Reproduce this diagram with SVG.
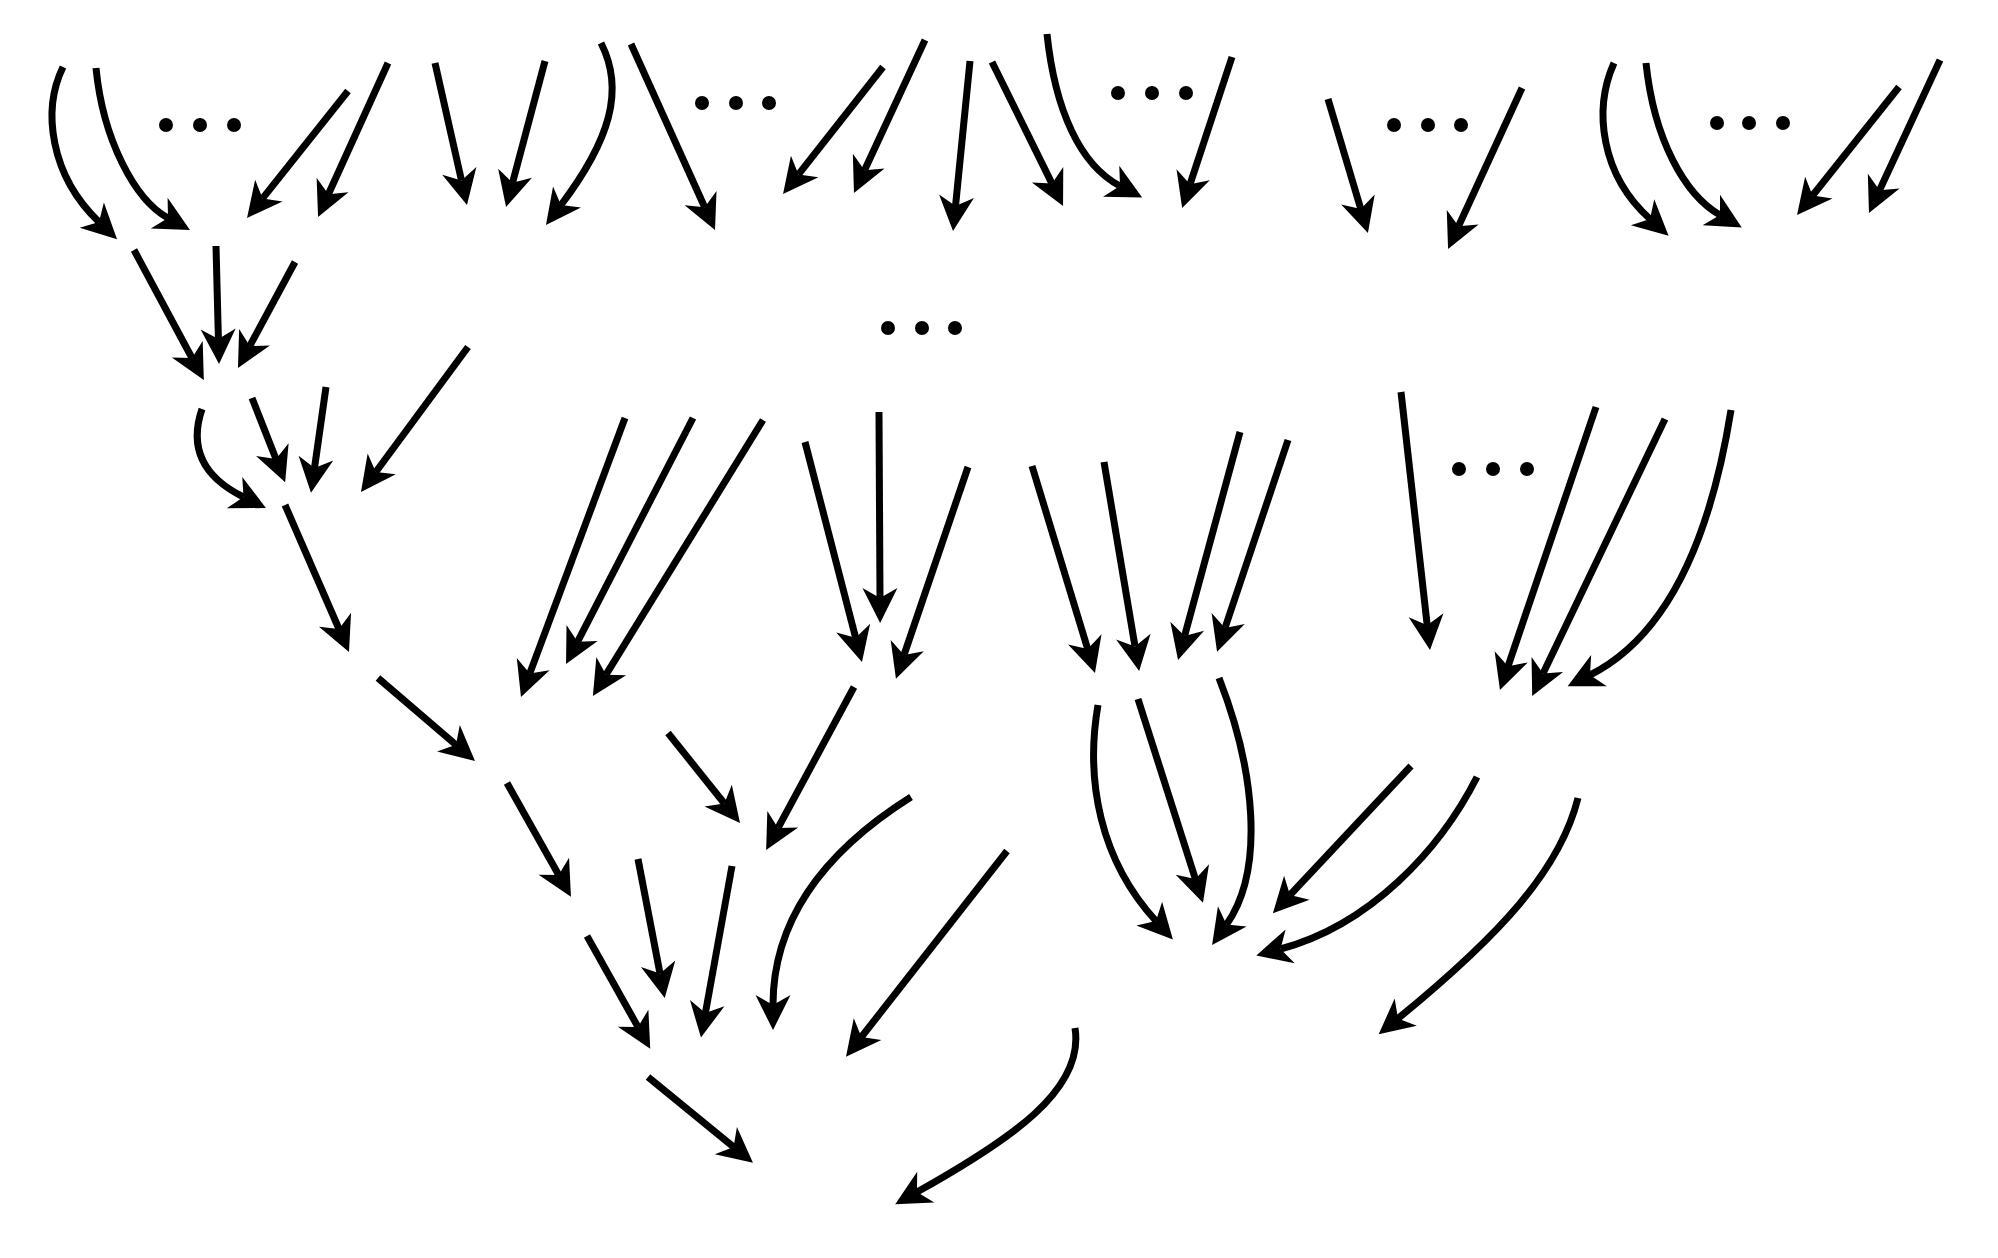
<svg xmlns="http://www.w3.org/2000/svg" width="1998" height="1258" viewBox="0 0 1998 1258">
<defs>
<style>
.e{fill:none;stroke:#000;stroke-width:7;stroke-linecap:butt;marker-end:url(#ah)}
.d{fill:#000}
</style>
<marker id="ah" markerUnits="userSpaceOnUse" orient="auto" refX="0" refY="0" markerWidth="40" markerHeight="40" overflow="visible">
<path d="M25,0 L-10,-17.5 L0,0 L-10,17.5 Z" fill="#000"/>
</marker>
</defs>
<rect width="1998" height="1258" fill="#fff"/>
<g id="ellipsis1" class="d"><circle cx="166" cy="125" r="7"/><circle cx="200" cy="125" r="7"/><circle cx="234" cy="125" r="7"/></g>
<g id="ellipsis2" class="d"><circle cx="702" cy="103" r="7"/><circle cx="736" cy="103" r="7"/><circle cx="769" cy="103" r="7"/></g>
<g id="ellipsis3" class="d"><circle cx="1118" cy="93" r="7"/><circle cx="1152" cy="93" r="7"/><circle cx="1186" cy="93" r="7"/></g>
<g id="ellipsis4" class="d"><circle cx="1394" cy="125" r="7"/><circle cx="1428" cy="125" r="7"/><circle cx="1461" cy="125" r="7"/></g>
<g id="ellipsis5" class="d"><circle cx="1717" cy="123" r="7"/><circle cx="1749" cy="123" r="7"/><circle cx="1783" cy="123" r="7"/></g>
<g id="ellipsis6" class="d"><circle cx="888" cy="328" r="7"/><circle cx="922" cy="328" r="7"/><circle cx="955" cy="328" r="7"/></g>
<g id="ellipsis7" class="d"><circle cx="1459" cy="469" r="7"/><circle cx="1493" cy="469" r="7"/><circle cx="1527" cy="469" r="7"/></g>
<g id="connectors">
<path class="e" d="M63,67 C42,110 50,175 99,222"/>
<path class="e" d="M96,68 C103,140 135,200 168,218"/>
<path class="e" d="M348,91 L262.6,198.4"/>
<path class="e" d="M388,63 L328.4,194.2"/>
<path class="e" d="M435,63 L461.5,180.6"/>
<path class="e" d="M545,61 L512.5,182.8"/>
<path class="e" d="M601,43 C625,90 610,140 561,205"/>
<path class="e" d="M631,44 L704.7,207.2"/>
<path class="e" d="M883,67 L798.5,174.4"/>
<path class="e" d="M925,40 L864.5,170.3"/>
<path class="e" d="M970,61 L955.5,206.1"/>
<path class="e" d="M992,62 L1052,183.6"/>
<path class="e" d="M1047,34 C1055,110 1080,165 1120,186"/>
<path class="e" d="M1232,57 L1190,184.3"/>
<path class="e" d="M1328,99 L1360.8,209"/>
<path class="e" d="M1522,88 L1458.5,226.3"/>
<path class="e" d="M1614,63 C1593,110 1601,175 1650,219"/>
<path class="e" d="M1646,63 C1654,140 1685,195 1720,215"/>
<path class="e" d="M1899,87 L1812.6,195.5"/>
<path class="e" d="M1940,60 L1879.5,190.3"/>
<path class="e" d="M134,250 L192,358"/>
<path class="e" d="M216,246 L218.4,339"/>
<path class="e" d="M295,262 L249.8,346"/>
<path class="e" d="M202,409 C188,450 205,478 243.5,497"/>
<path class="e" d="M252,398 L276,459"/>
<path class="e" d="M326,387 L314.5,468"/>
<path class="e" d="M468,347 L375.8,472"/>
<path class="e" d="M285,505 L339,629"/>
<path class="e" d="M378,678 L456,744.8"/>
<path class="e" d="M625,418 L529.7,673.6"/>
<path class="e" d="M693,418 L577.5,641.8"/>
<path class="e" d="M763,420 L606,674.7"/>
<path class="e" d="M805,442 L855.7,637.8"/>
<path class="e" d="M879,412 L880,598"/>
<path class="e" d="M968,467 L904,655"/>
<path class="e" d="M668,733 L724.4,803.5"/>
<path class="e" d="M854,687 L778,828"/>
<path class="e" d="M507,783 L558.7,875"/>
<path class="e" d="M638,859 L660,973.5"/>
<path class="e" d="M732,866 L705.4,1013"/>
<path class="e" d="M587,936 L638,1027"/>
<path class="e" d="M911,797 C830,848 773,915 773,1005"/>
<path class="e" d="M1007,851 L861.4,1037"/>
<path class="e" d="M648,1077 L733.6,1147"/>
<path class="e" d="M1075,1028 C1085,1090 1010,1140 917,1192"/>
<path class="e" d="M1032,466 L1087.7,649"/>
<path class="e" d="M1104,462 L1135,646.4"/>
<path class="e" d="M1240,432 L1184.6,635.9"/>
<path class="e" d="M1288,440 L1225,628"/>
<path class="e" d="M1401,392 L1427.2,625.2"/>
<path class="e" d="M1596,407 L1508,666.3"/>
<path class="e" d="M1665,419 L1543,673.5"/>
<path class="e" d="M1731,410 C1715,510 1680,630 1590,675"/>
<path class="e" d="M1098,705 C1085,780 1100,860 1156,921"/>
<path class="e" d="M1138,699 L1195.4,879"/>
<path class="e" d="M1219,678 C1255,770 1265,870 1226.5,924.6"/>
<path class="e" d="M1411,766 L1290,895"/>
<path class="e" d="M1477,777 C1440,850 1370,925 1280.5,949"/>
<path class="e" d="M1578,798 C1560,870 1500,935 1398,1018.5"/>
</g>
</svg>
